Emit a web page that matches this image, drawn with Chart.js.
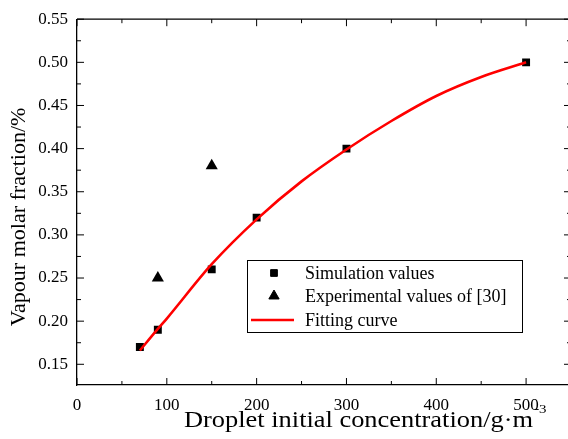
<!DOCTYPE html>
<html>
<head>
<meta charset="utf-8">
<script src="https://cdn.jsdelivr.net/npm/chart.js@4"></script>
<style>
  html, body { margin: 0; padding: 0; background: #fff; overflow: hidden; }
  #wrap { width: 580px; height: 439px; position: relative; }
</style>
</head>
<body>
<div id="wrap"><canvas id="myChart"></canvas></div>
<script>
// data
var simX = [70, 90, 150, 200, 300, 500];
var simY = [0.17, 0.19, 0.26, 0.32, 0.40, 0.50];
var expX = [90, 150];
var expY = [0.25, 0.38];
var fitX = [70, 90, 100, 150, 200, 250, 300, 350, 400, 450, 500];
var fitY = [0.166, 0.191, 0.203, 0.266, 0.318, 0.362, 0.399, 0.432, 0.461, 0.483, 0.500];
var xTicks = [0, 100, 200, 300, 400, 500];
var yTicks = [0.15, 0.20, 0.25, 0.30, 0.35, 0.40, 0.45, 0.50, 0.55];

var serif = "'Liberation Serif', 'Times New Roman', serif";
Chart.defaults.font.family = serif;
Chart.defaults.color = '#000';

function pts(xs, ys) {
    return xs.map(function (x, i) { return { x: x, y: ys[i] }; });
}

// frame on top/right plus inward major and minor ticks on every side
var framePlugin = {
    id: 'frame',
    afterDraw: function (chart) {
        var ctx = chart.ctx, a = chart.chartArea;
        var xs = chart.scales.x, ys = chart.scales.y;
        ctx.save();
        ctx.strokeStyle = '#000';
        ctx.lineWidth = 1.3;
        ctx.beginPath();
        ctx.moveTo(a.left, a.top); ctx.lineTo(a.right, a.top); ctx.lineTo(a.right, a.bottom);
        ctx.stroke();
        ctx.lineWidth = 1;
        ctx.beginPath();
        for (var v = 0; v <= 550; v += 50) {
            var px = xs.getPixelForValue(v);
            var len = v % 100 === 0 ? 7 : 4;
            ctx.moveTo(px, a.bottom); ctx.lineTo(px, a.bottom - len);
            ctx.moveTo(px, a.top); ctx.lineTo(px, a.top + len);
        }
        for (var k = 0; k <= 16; k++) {
            var val = 0.15 + k * 0.025;
            if (val > 0.551) break;
            var py = ys.getPixelForValue(val);
            var l2 = k % 2 === 0 ? 7 : 4;
            ctx.moveTo(a.left, py); ctx.lineTo(a.left + l2, py);
            ctx.moveTo(a.right, py); ctx.lineTo(a.right - l2, py);
        }
        ctx.stroke();

        // axis titles
        ctx.fillStyle = '#000';
        ctx.font = '22px ' + serif;
        ctx.textAlign = 'center';
        ctx.textBaseline = 'middle';
        ctx.save();
        ctx.translate(19, 217);
        ctx.rotate(-Math.PI / 2);
        ctx.fillText('Vapour molar fraction/%', 0, 0);
        ctx.restore();

        // x title, stretched a little to the reference width
        var main = 'Droplet initial concentration/g\u00b7m';
        ctx.font = '23px ' + serif;
        var w1 = ctx.measureText(main).width;
        var sx = 349 / w1;
        ctx.save();
        ctx.translate(184, 427);
        ctx.scale(sx, 1);
        ctx.textAlign = 'left';
        ctx.textBaseline = 'alphabetic';
        ctx.fillText(main, 0, 0);
        ctx.font = '13px ' + serif;
        ctx.fillText('-3', w1 + 1, -14);
        ctx.restore();
        ctx.restore();
    }
};

// legend box inside the plot
var legendPlugin = {
    id: 'boxLegend',
    afterDatasetsDraw: function (chart) {
        var ctx = chart.ctx;
        var ds = chart.data.datasets;
        ctx.save();
        ctx.fillStyle = '#fff';
        ctx.fillRect(247, 260, 275, 72);
        ctx.strokeStyle = '#000';
        ctx.lineWidth = 1;
        ctx.strokeRect(247.5, 260.5, 275, 72);
        var rows = [273, 296, 320];
        for (var i = 0; i < ds.length; i++) {
            var y = rows[i];
            if (ds[i].pointRadius > 0) {
                ctx.fillStyle = '#000';
                ctx.strokeStyle = '#000';
                Chart.helpers.drawPoint(ctx, {
                    pointStyle: ds[i].pointStyle,
                    radius: ds[i].pointRadius * 0.85,
                    rotation: 0,
                    borderWidth: 1
                }, 274, y);
            } else {
                ctx.strokeStyle = ds[i].borderColor;
                ctx.lineWidth = ds[i].borderWidth;
                ctx.beginPath();
                ctx.moveTo(251, y); ctx.lineTo(294, y);
                ctx.stroke();
            }
            ctx.fillStyle = '#000';
            ctx.font = '18px ' + serif;
            ctx.textAlign = 'left';
            ctx.textBaseline = 'middle';
            ctx.fillText(ds[i].label, 305, y + 1);
        }
        ctx.restore();
    }
};

var ctx = document.getElementById('myChart').getContext('2d');
var myChart = new Chart(ctx, {
    type: 'scatter',
    data: {
        datasets: [{
            label: 'Simulation values',
            data: pts(simX, simY),
            pointStyle: 'rect',
            pointRadius: 5.6,
            backgroundColor: '#000',
            borderColor: '#000',
            borderWidth: 0,
            order: 1
        }, {
            label: 'Experimental values of [30]',
            data: pts(expX, expY),
            pointStyle: 'triangle',
            pointRadius: 7,
            backgroundColor: '#000',
            borderColor: '#000',
            borderWidth: 0,
            order: 1
        }, {
            type: 'line',
            label: 'Fitting curve',
            data: pts(fitX, fitY),
            borderColor: '#ff0000',
            borderWidth: 2.6,
            pointRadius: 0,
            cubicInterpolationMode: 'monotone',
            fill: false,
            order: 0
        }]
    },
    options: {
        responsive: true,
        maintainAspectRatio: false,
        animation: false,
        layout: { padding: { top: 18, right: 9, left: 0, bottom: 0 } },
        plugins: {
            legend: { display: false },
            tooltip: { enabled: false }
        },
        scales: {
            x: {
                type: 'linear',
                min: 0,
                max: 550,
                grid: { display: false, drawTicks: false },
                border: { display: true, color: '#000', width: 1.3 },
                ticks: {
                    color: '#000',
                    font: { family: serif, size: 17 },
                    padding: 10,
                    maxRotation: 0
                },
                afterBuildTicks: function (s) { s.ticks = xTicks.map(function (v) { return { value: v }; }); },
                afterFit: function (s) { s.height = 54; }
            },
            y: {
                min: 0.126,
                max: 0.55,
                grid: { display: false, drawTicks: false },
                border: { display: true, color: '#000', width: 1.3 },
                ticks: {
                    color: '#000',
                    font: { family: serif, size: 17 },
                    padding: 9,
                    callback: function (v) { return Number(v).toFixed(2); }
                },
                afterBuildTicks: function (s) { s.ticks = yTicks.map(function (v) { return { value: v }; }); },
                afterFit: function (s) { s.width = 77; }
            }
        }
    },
    plugins: [legendPlugin, framePlugin]
});
</script>
</body>
</html>
